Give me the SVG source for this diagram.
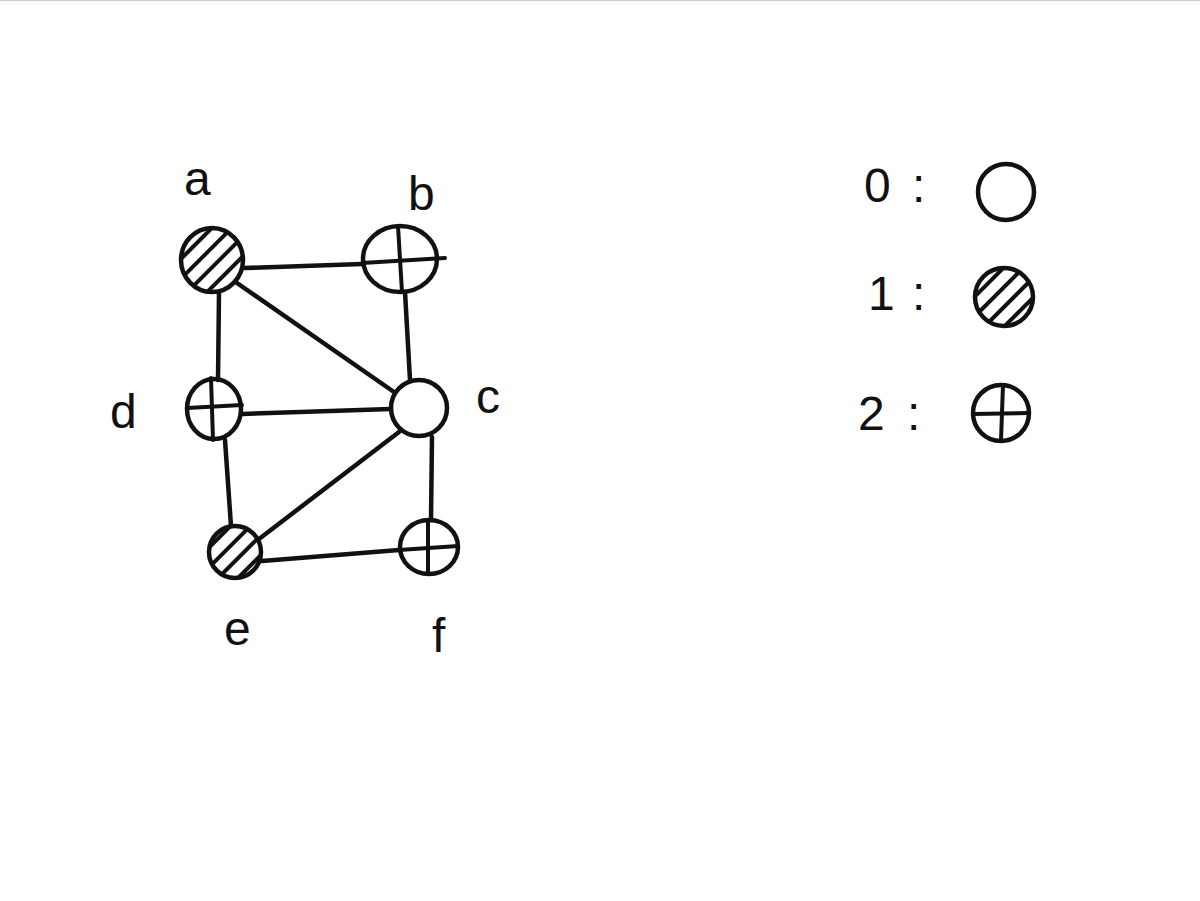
<svg xmlns="http://www.w3.org/2000/svg" width="1200" height="901" viewBox="0 0 1200 901">
<style>
.n{fill:none;stroke:#111;stroke-width:4.5}
.h{fill:url(#hatch);stroke:#111;stroke-width:4.5}
.x{stroke:#111;stroke-width:4;stroke-linecap:round}
.e{stroke:#111;stroke-width:4.5;stroke-linecap:round;fill:none}
.t{font-family:"Liberation Sans",Arial,sans-serif;font-size:48px;fill:#111}
</style>
<defs>
<pattern id="hatch" patternUnits="userSpaceOnUse" width="14" height="14" patternTransform="rotate(45)">
<rect width="14" height="14" fill="#fff"/>
<line x1="3" y1="0" x2="3" y2="14" stroke="#111" stroke-width="4"/>
</pattern>
</defs>
<rect width="1200" height="901" fill="#fff"/>
<line x1="0" y1="0.5" x2="1200" y2="0.5" stroke="#ccc" stroke-width="1"/>
<g id="edges">
<line class="e" x1="245" y1="268" x2="362" y2="264"/>
<line class="e" x1="237" y1="283" x2="394" y2="392"/>
<line class="e" x1="219" y1="292" x2="218" y2="380"/>
<line class="e" x1="405" y1="292" x2="410" y2="380"/>
<line class="e" x1="242" y1="414" x2="391" y2="409"/>
<line class="e" x1="399" y1="432" x2="259" y2="539"/>
<line class="e" x1="225" y1="440" x2="231" y2="526"/>
<line class="e" x1="432" y1="437" x2="431" y2="520"/>
<line class="e" x1="262" y1="561" x2="399" y2="550"/>
</g>
<g id="node-a"><ellipse class="h" cx="212" cy="260" rx="31" ry="32"/><text class="t" x="184" y="195">a</text></g>
<g id="node-b"><ellipse class="n" cx="400" cy="259" rx="37" ry="33"/><line class="x" x1="362" y1="263" x2="445" y2="258"/><line class="x" x1="398" y1="226" x2="402" y2="292"/><text class="t" x="408" y="210">b</text></g>
<g id="node-c"><circle class="n" cx="419" cy="408" r="28"/><text class="t" x="476" y="413">c</text></g>
<g id="node-d"><ellipse class="n" cx="214" cy="409" rx="27" ry="30"/><line class="x" x1="187" y1="408" x2="242" y2="405"/><line class="x" x1="211" y1="378" x2="213" y2="440"/><text class="t" x="110" y="428">d</text></g>
<g id="node-e"><circle class="h" cx="235" cy="552" r="26"/><text class="t" x="224" y="645">e</text></g>
<g id="node-f"><ellipse class="n" cx="429" cy="547" rx="29" ry="27"/><line class="x" x1="399" y1="550" x2="458" y2="546"/><line class="x" x1="428" y1="520" x2="428" y2="573"/><text class="t" x="432" y="652">f</text></g>
<g id="legend">
<text class="t" x="864" y="202">0<tspan x="912">:</tspan></text>
<circle class="n" cx="1006" cy="192" r="28"/>
<text class="t" x="868" y="310">1<tspan x="912">:</tspan></text>
<circle class="h" cx="1004" cy="297" r="29"/>
<text class="t" x="858" y="430">2<tspan x="907">:</tspan></text>
<circle class="n" cx="1001" cy="413" r="28"/>
<line class="x" x1="973" y1="414" x2="1029" y2="413"/>
<line class="x" x1="1003" y1="385" x2="1001" y2="440"/>
</g>
</svg>
